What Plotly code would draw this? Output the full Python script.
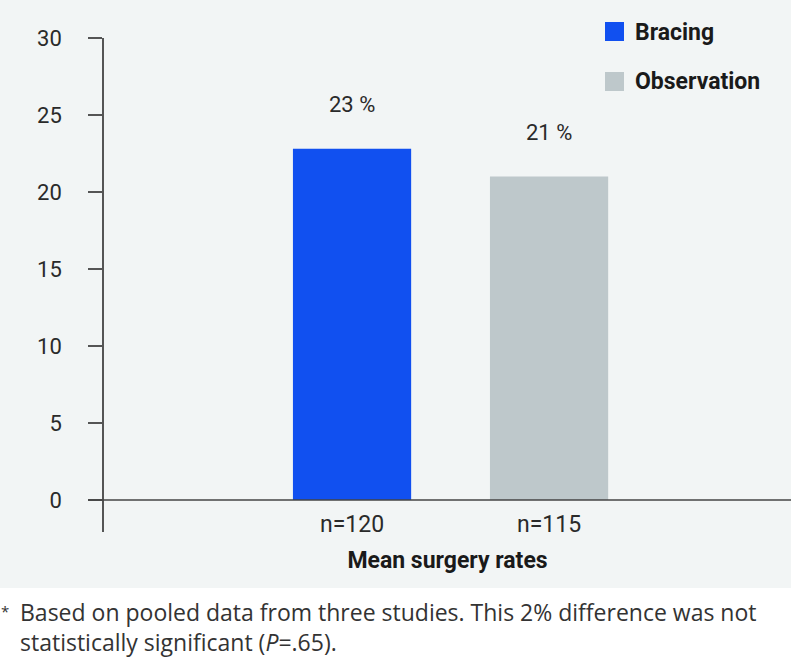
import plotly.graph_objects as go

# ---- data ----
series_names = ["Bracing", "Observation"]
sample_labels = ["n=120", "n=115"]
surgery_rates = [22.8, 21.0]
value_labels = ["23 %", "21 %"]
y_tick_values = [0, 5, 10, 15, 20, 25, 30]
axis_title = "Mean surgery rates"
footnote_lines = ["Based on pooled data from three studies. This 2% difference was not",
                  "statistically significant (<i>P</i>=.65)."]

colors = ["#1150f0", "#bec8cb"]
BG = "#f2f5f5"
COND = "Roboto, sans-serif"
NOTE = "Open Sans, sans-serif"

fig = go.Figure()
xs = list(range(len(series_names)))
fig.add_trace(go.Bar(
    x=xs, y=surgery_rates, width=0.6,
    marker=dict(color=colors, line=dict(width=0)),
    showlegend=False, hoverinfo="skip",
))

# value labels above bars
for xi, v, lab in zip(xs, surgery_rates, value_labels):
    fig.add_annotation(x=xi, y=v, text=lab, showarrow=False, yshift=44,
                       yanchor="middle",
                       font=dict(family=COND, size=22, color="#2a2a2a"))

# x axis baseline extending left of the y axis
fig.add_shape(type="line", xref="paper", yref="y", x0=-0.023, x1=1.0, y0=0, y1=0,
              line=dict(color="#444", width=1.5))

paper_w = 687.0
paper_h = 494.0
def px_x(p):
    return (p - 104) / paper_w
def px_y(p):
    return (532 - p) / paper_h

# white footnote band
fig.add_shape(type="rect", xref="paper", yref="paper", x0=-0.3, x1=1.2,
              y0=px_y(588), y1=-0.4, fillcolor="white", line=dict(width=0), layer="below")

# custom legend
leg_tops = [22, 72]
for name, col, top in zip(series_names, colors, leg_tops):
    fig.add_shape(type="rect", xref="paper", yref="paper",
                  x0=px_x(605), x1=px_x(624), y0=px_y(top + 19), y1=px_y(top),
                  fillcolor=col, line=dict(width=0))
    fig.add_annotation(xref="paper", yref="paper", x=px_x(633), y=px_y(top + 10),
                       text="<b>" + name + "</b>", showarrow=False,
                       xanchor="left", yanchor="middle",
                       font=dict(family=COND, size=23, color="#1a1a1a"))

# footnote
fig.add_annotation(xref="paper", yref="paper", x=px_x(-1), y=px_y(611),
                   text="*", showarrow=False, xanchor="left", yanchor="middle",
                   font=dict(family=NOTE, size=15, color="#333"))
fig.add_annotation(xref="paper", yref="paper", x=px_x(19), y=px_y(627),
                   text="<br>".join(footnote_lines), showarrow=False,
                   xanchor="left", yanchor="middle", align="left", borderpad=0,
                   font=dict(family=NOTE, size=23, color="#333"))

fig.update_layout(
    width=791, height=658,
    margin=dict(l=104, r=0, t=38, b=126),
    paper_bgcolor=BG, plot_bgcolor="rgba(0,0,0,0)",
    xaxis=dict(
        tickmode="array", tickvals=xs, ticktext=sample_labels,
        range=[-1.259, 2.228], showline=False, showgrid=False, zeroline=False,
        ticks="", anchor="free", position=32 / 494.0,
        ticklabelstandoff=8,
        tickfont=dict(family=COND, size=23, color="#2a2a2a"),
        title=dict(text="<b>" + axis_title + "</b>", standoff=14,
                   font=dict(family=COND, size=23, color="#1a1a1a")),
    ),
    yaxis=dict(
        range=[-2.08, 30], tickmode="array", tickvals=y_tick_values,
        showline=True, linecolor="#555", linewidth=1.5,
        ticks="outside", ticklen=14, tickcolor="#555", tickwidth=1.5,
        showgrid=False, zeroline=False, ticklabelstandoff=22,
        tickfont=dict(family=COND, size=22, color="#2a2a2a"),
    ),
)

fig.write_html("out.html", config={"displayModeBar": False},
               post_script="document.body.style.margin='0';")
